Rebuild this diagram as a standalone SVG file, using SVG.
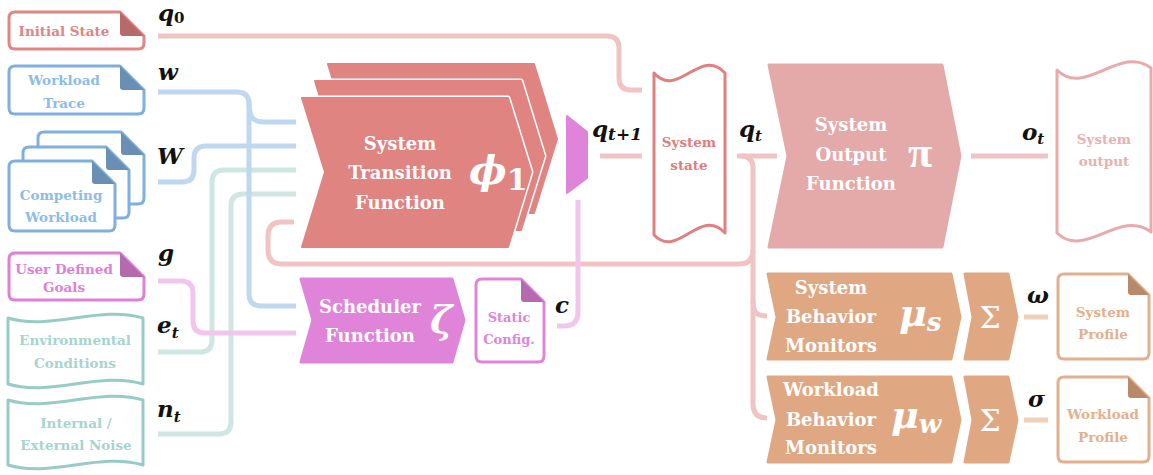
<svg xmlns="http://www.w3.org/2000/svg" width="1153" height="475" viewBox="0 0 1153 475">
  <style>
    .lbl { font-family: "DejaVu Serif", "Liberation Serif", serif; font-weight: bold; text-anchor: middle; }
    .big { font-size: 18px; fill: #ffffff; }
    .sm { font-size: 13.5px; }
    .math { font-family: "DejaVu Serif", "Liberation Serif", serif; font-weight: bold; font-style: italic; fill: #111111; font-size: 23px; }
    .sub { font-size: 15px; }
    .sym { font-family: "DejaVu Serif", "Liberation Serif", serif; font-weight: bold; font-style: italic; fill: #ffffff; }
    .sigma { font-family: "DejaVu Serif", "Liberation Serif", serif; font-weight: normal; text-anchor: middle; font-size: 30px; fill: #ffffff; }
    .conn { fill: none; stroke-width: 5; stroke-linecap: butt; }
    .pink { stroke: #f2c3c3; }
    .blue { stroke: #bfd7ef; }
    .teal { stroke: #cfe6e2; }
    .mag { stroke: #f1c5ee; }
    .org { stroke: #efd0bb; }
    .doc { stroke-width: 3; fill: #ffffff; stroke-linejoin: round; }
    .tape { stroke-width: 3; fill: #ffffff; stroke-linejoin: round; }
    .chev { stroke-width: 3; stroke-linejoin: round; }
    .stf-gap { fill: #e08482; stroke: #ffffff; stroke-width: 5; stroke-linejoin: round; }
    .stf { fill: #e08482; stroke: #e08482; stroke-width: 2; stroke-linejoin: round; }
  </style>

  <!-- connectors -->
  <g id="connectors">
    <path class="conn pink" d="M158,36 H607 Q619,36 619,48 V78 Q619,90 631,90 H642"/>
    <path class="conn teal" d="M158,352 H200 Q212,352 212,340 V182 Q212,170 224,170 H296"/>
    <path class="conn teal" d="M158,434 H219 Q231,434 231,422 V206 Q231,194 243,194 H296"/>
    <path class="conn mag" d="M158,281 H181 Q193,281 193,293 V321 Q193,333 205,333 H296"/>
    <path class="conn blue" d="M158,182 H182 Q194,182 194,170 V158 Q194,146 206,146 H296"/>
    <path class="conn blue" d="M158,92 H237 Q249,92 249,104 V294 Q249,306 261,306 H296"/>
    <path class="conn blue" d="M249,100 C249,117 252,122 264,122 H296"/>
    <path class="conn pink" d="M741,156 Q753,156 753,168 V404 Q753,418 767,418"/>
    <path class="conn pink" d="M737,156 H777"/>
    <path class="conn pink" d="M753,300 C753,312 756,316 767,316"/>
    <path class="conn pink" d="M753,250 Q753,264 739,264 H282 Q268,264 268,250 V236 Q268,222 282,222 H294"/>
    <path class="conn mag" d="M578,200 V312 Q578,326 564,326 H557"/>
    <path class="conn pink" d="M600,156 H642"/>
    <path class="conn pink" d="M971,156 H1048"/>
    <path class="conn org" d="M1024,317 H1048"/>
    <path class="conn org" d="M1024,420 H1048"/>
  </g>

  <!-- inputs -->
  <g id="initial-state">
    <path class="doc" stroke="#e08484" d="M15,12 H120 L144,36 V43 Q144,49 138,49 H15 Q9,49 9,43 V18 Q9,12 15,12 Z"/>
    <path fill="#b86a6a" d="M120,12 V33 Q120,36 123,36 H144 Z"/>
    <text class="lbl sm" x="64" y="36" fill="#e08484">Initial State</text>
  </g>

  <g id="workload-trace">
    <path class="doc" stroke="#7fb0dd" d="M15,66 H120 L144,90 V108 Q144,114 138,114 H15 Q9,114 9,108 V72 Q9,66 15,66 Z"/>
    <path fill="#6a8fb4" d="M120,66 V87 Q120,90 123,90 H144 Z"/>
    <text class="lbl sm" x="64" y="85" fill="#8cbce8">Workload</text>
    <text class="lbl sm" x="64" y="108" fill="#8cbce8">Trace</text>
  </g>

  <g id="competing-workload">
    <path class="doc" stroke="#7fb0dd" d="M44,132 H121 L144,155 V198 Q144,204 138,204 H44 Q38,204 38,198 V138 Q38,132 44,132 Z"/>
    <path fill="#6a8fb4" d="M121,132 V152 Q121,155 124,155 H144 Z"/>
    <path class="doc" stroke="#7fb0dd" d="M29,147 H106 L129,170 V212 Q129,218 123,218 H29 Q23,218 23,212 V153 Q23,147 29,147 Z"/>
    <path fill="#6a8fb4" d="M106,147 V167 Q106,170 109,170 H129 Z"/>
    <path class="doc" stroke="#7fb0dd" d="M15,161 H92 L115,184 V225 Q115,231 109,231 H15 Q9,231 9,225 V167 Q9,161 15,161 Z"/>
    <path fill="#6a8fb4" d="M92,161 V181 Q92,184 95,184 H115 Z"/>
    <text class="lbl sm" x="61" y="200" fill="#8cbce8">Competing</text>
    <text class="lbl sm" x="61" y="222" fill="#8cbce8">Workload</text>
  </g>

  <g id="user-goals">
    <path class="doc" stroke="#df7fd6" d="M15,253 H120 L144,277 V294 Q144,300 138,300 H15 Q9,300 9,294 V259 Q9,253 15,253 Z"/>
    <path fill="#b46aae" d="M120,253 V274 Q120,277 123,277 H144 Z"/>
    <text class="lbl sm" x="64" y="274" fill="#e07fd8">User Defined</text>
    <text class="lbl sm" x="64" y="292" fill="#e07fd8">Goals</text>
  </g>

  <g id="environment">
    <path class="tape" stroke="#96ccc5" d="M8,318 C50,331 100,305 143,318 V384 C100,371 50,397 8,384 Z"/>
    <text class="lbl sm" x="75" y="345" fill="#a5d5cd">Environmental</text>
    <text class="lbl sm" x="75" y="368" fill="#a5d5cd">Conditions</text>
  </g>

  <g id="noise">
    <path class="tape" stroke="#96ccc5" d="M8,400 C50,413 100,387 143,400 V465 C100,452 50,478 8,465 Z"/>
    <text class="lbl sm" x="76" y="428" fill="#a5d5cd">Internal /</text>
    <text class="lbl sm" x="76" y="450" fill="#a5d5cd">External Noise</text>
  </g>

  <!-- input labels -->
  <g id="input-labels">
    <text class="math" x="158" y="21" font-size="22">q<tspan class="sub" dy="2" font-style="normal">0</tspan></text>
    <text class="math" x="158" y="80">w</text>
    <text class="math" x="157" y="164" font-size="25">W</text>
    <text class="math" x="158" y="261">g</text>
    <text class="math" x="157" y="333">e<tspan class="sub" dy="5">t</tspan></text>
    <text class="math" x="157" y="417">n<tspan class="sub" dy="5">t</tspan></text>
  </g>

  <!-- system transition function (stack of three) -->
  <g id="system-transition">
    <path class="stf-gap" d="M328,64 H534 L557,139 L534,213 H328 L351,139 Z"/>
    <path class="stf" d="M328,64 H534 L557,139 L534,213 H328 L351,139 Z"/>
    <path class="stf-gap" d="M315,81 H521 L544,156 L521,230 H315 L338,156 Z"/>
    <path class="stf" d="M315,81 H521 L544,156 L521,230 H315 L338,156 Z"/>
    <path class="stf-gap" d="M302,98 H508 L531,172 L508,247 H302 L325,172 Z"/>
    <path class="stf" d="M302,98 H508 L531,172 L508,247 H302 L325,172 Z"/>
    <text class="lbl big" x="400" y="150">System</text>
    <text class="lbl big" x="400" y="179">Transition</text>
    <text class="lbl big" x="400" y="209">Function</text>
    <text class="sym" x="469" y="184" font-size="40">ϕ<tspan font-size="30" font-style="normal" dy="6">1</tspan></text>
  </g>

  <g id="state-gate">
    <path fill="#e084da" stroke="#e084da" stroke-width="2" stroke-linejoin="round" d="M567,116 L587,132 V178 L567,193 Z"/>
    <text class="math" x="592" y="137">q<tspan font-size="17" dy="3">t+1</tspan></text>
  </g>

  <g id="scheduler">
    <path class="chev" fill="#e084da" stroke="#e084da" d="M301,279 H452 L464,320 L452,362 H301 L313,320 Z"/>
    <text class="lbl big" x="370" y="313">Scheduler</text>
    <text class="lbl big" x="370" y="342">Function</text>
    <text class="sym" x="430" y="333" font-size="38">ζ</text>
  </g>

  <g id="static-config">
    <path class="doc" stroke="#e084da" d="M482,279 H521 L544,302 V356 Q544,362 538,362 H482 Q476,362 476,356 V285 Q476,279 482,279 Z"/>
    <path fill="#b46aae" d="M521,279 V299 Q521,302 524,302 H544 Z"/>
    <text class="lbl" x="509" y="322" font-size="13" fill="#e084da">Static</text>
    <text class="lbl" x="509" y="344" font-size="13" fill="#e084da">Config.</text>
    <text class="math" x="555" y="313">c</text>
  </g>

  <g id="system-state">
    <path class="tape" stroke="#e08080" d="M654,73 C678,100 700,46 725,73 V233 C700,206 678,260 654,235 Z"/>
    <text class="lbl sm" x="689" y="147" fill="#e07d7d">System</text>
    <text class="lbl sm" x="689" y="170" fill="#e07d7d">state</text>
    <text class="math" x="739" y="137">q<tspan class="sub" dy="4">t</tspan></text>
  </g>

  <g id="system-output-function">
    <path class="chev" fill="#e4a9a9" stroke="#e4a9a9" d="M769,65 H942 L960,156 L942,247 H769 L788,156 Z"/>
    <text class="lbl big" x="851" y="131">System</text>
    <text class="lbl big" x="851" y="161">Output</text>
    <text class="lbl big" x="851" y="190">Function</text>
    <text x="908" y="167" font-family="Liberation Serif, serif" font-weight="bold" font-size="44" fill="#ffffff">π</text>
  </g>

  <g id="system-output">
    <text class="math" x="1022" y="140">o<tspan class="sub" dy="4">t</tspan></text>
    <path class="tape" stroke="#e8aaaa" d="M1057,70 C1085,98 1120,44 1151,68 V232 C1120,208 1085,260 1057,233 Z"/>
    <text class="lbl sm" x="1104" y="144" fill="#eab0b0">System</text>
    <text class="lbl sm" x="1104" y="166" fill="#eab0b0">output</text>
  </g>

  <g id="system-monitors">
    <path class="chev" fill="#dfa883" stroke="#dfa883" d="M768,274 H951 L960,317 L951,359 H768 L777,317 Z"/>
    <text class="lbl big" x="831" y="294">System</text>
    <text class="lbl big" x="831" y="323">Behavior</text>
    <text class="lbl big" x="831" y="352">Monitors</text>
    <text class="sym" x="899" y="326" font-size="38">μ<tspan font-size="26" dy="5">s</tspan></text>
  </g>

  <g id="system-sum">
    <path class="chev" fill="#dfa883" stroke="#dfa883" d="M965,274 H1008 L1017,317 L1008,359 H965 L973,317 Z"/>
    <text class="sigma" x="990" y="328">Σ</text>
    <text class="math" x="1027" y="303">ω</text>
  </g>

  <g id="system-profile">
    <path class="doc" stroke="#e2b08c" d="M1064,274 H1128 L1149,295 V353 Q1149,359 1143,359 H1064 Q1058,359 1058,353 V280 Q1058,274 1064,274 Z"/>
    <path fill="#b98a6a" d="M1128,274 V292 Q1128,295 1131,295 H1149 Z"/>
    <text class="lbl sm" x="1103" y="317" fill="#e3b08c">System</text>
    <text class="lbl sm" x="1103" y="339" fill="#e3b08c">Profile</text>
  </g>

  <g id="workload-monitors">
    <path class="chev" fill="#dfa883" stroke="#dfa883" d="M768,377 H951 L960,420 L951,462 H768 L777,420 Z"/>
    <text class="lbl big" x="831" y="396">Workload</text>
    <text class="lbl big" x="831" y="426">Behavior</text>
    <text class="lbl big" x="831" y="454">Monitors</text>
    <text class="sym" x="891" y="428" font-size="38">μ<tspan font-size="26" dy="5">w</tspan></text>
  </g>

  <g id="workload-sum">
    <path class="chev" fill="#dfa883" stroke="#dfa883" d="M965,377 H1008 L1017,420 L1008,462 H965 L973,420 Z"/>
    <text class="sigma" x="990" y="431">Σ</text>
    <text class="math" x="1028" y="407">σ</text>
  </g>

  <g id="workload-profile">
    <path class="doc" stroke="#e2b08c" d="M1064,377 H1128 L1149,398 V456 Q1149,462 1143,462 H1064 Q1058,462 1058,456 V383 Q1058,377 1064,377 Z"/>
    <path fill="#b98a6a" d="M1128,377 V395 Q1128,398 1131,398 H1149 Z"/>
    <text class="lbl sm" x="1103" y="419" fill="#e3b08c">Workload</text>
    <text class="lbl sm" x="1103" y="442" fill="#e3b08c">Profile</text>
  </g>
</svg>
